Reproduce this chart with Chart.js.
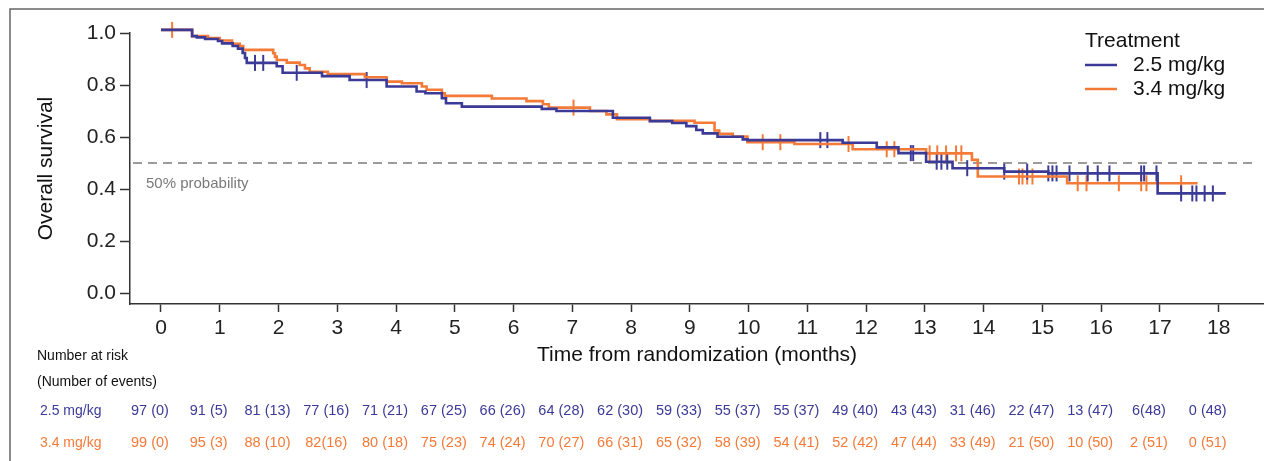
<!DOCTYPE html>
<html>
<head>
<meta charset="utf-8">
<script src="https://cdn.jsdelivr.net/npm/chart.js@4.4.1/dist/chart.umd.min.js"></script>
<style>
  html, body { margin: 0; padding: 0; background: #fff; }
</style>
</head>
<body>
<canvas id="km" width="1264" height="461"></canvas>
<script>
// Groups
const groups = ["2.5 mg/kg", "3.4 mg/kg"];
const colors = ["#3b3a97", "#f47a38"];

// Kaplan-Meier steps: [month, survival from that month on]
const stepsLow = [
  [0, 1.012], [0.53, 0.988], [0.61, 0.983], [0.75, 0.977], [0.97, 0.969],
  [1.04, 0.96], [1.22, 0.95], [1.31, 0.94], [1.39, 0.923], [1.43, 0.904],
  [1.46, 0.885], [1.97, 0.872], [2.07, 0.847], [2.74, 0.834], [3.21, 0.819],
  [3.84, 0.794], [4.35, 0.775], [4.5, 0.768], [4.78, 0.749], [4.85, 0.73],
  [5.12, 0.717], [6.48, 0.708], [6.73, 0.7], [7.69, 0.674], [8.32, 0.661],
  [8.7, 0.654], [8.94, 0.642], [9.11, 0.627], [9.22, 0.614], [9.47, 0.601],
  [9.9, 0.591], [9.98, 0.588], [11.6, 0.578], [12.18, 0.56], [12.55, 0.538],
  [13.02, 0.505], [13.47, 0.48], [14.35, 0.467], [15.1, 0.46], [16.96, 0.383],
  [18.12, 0.383]
];
const stepsHigh = [
  [0, 1.012], [0.53, 0.988], [0.8, 0.981], [1.0, 0.971], [1.21, 0.958],
  [1.34, 0.95], [1.4, 0.935], [1.91, 0.922], [1.94, 0.909], [1.97, 0.896],
  [2.14, 0.886], [2.36, 0.877], [2.45, 0.864], [2.53, 0.851], [2.84, 0.842],
  [3.47, 0.83], [3.84, 0.813], [4.1, 0.807], [4.44, 0.794], [4.52, 0.782],
  [4.78, 0.768], [4.83, 0.758], [5.63, 0.748], [6.22, 0.738], [6.5, 0.726],
  [6.6, 0.713], [7.3, 0.7], [7.58, 0.687], [7.76, 0.668], [8.32, 0.662],
  [9.08, 0.655], [9.42, 0.625], [9.5, 0.612], [9.73, 0.602], [9.98, 0.58],
  [10.78, 0.573], [11.77, 0.553], [13.02, 0.537], [13.8, 0.512], [13.9, 0.448],
  [15.42, 0.422], [17.64, 0.422]
];

// Censoring times (months)
const censorLow = [1.6, 1.74, 2.31, 3.5, 11.22, 11.34, 12.76, 12.8, 13.2, 13.28,
  13.38, 13.72, 14.35, 14.74, 15.1, 15.17, 15.24, 15.46, 15.77, 15.94, 16.14,
  16.68, 16.73, 16.94, 17.36, 17.55, 17.62, 17.76, 17.9];
const censorHigh = [0.19, 7.02, 10.24, 10.54, 11.7, 12.35, 12.48, 13.08, 13.21,
  13.36, 13.53, 13.62, 14.6, 14.66, 14.74, 14.83, 15.6, 15.75, 16.3, 16.68,
  16.77, 17.36];

// Axis ticks
const xTicks = [0, 1, 2, 3, 4, 5, 6, 7, 8, 9, 10, 11, 12, 13, 14, 15, 16, 17, 18];
const yTicks = [0, 0.2, 0.4, 0.6, 0.8, 1.0];
const refLevel = 0.5;
const refLabel = "50% probability";

// Number at risk (number of events) at each x tick
const riskLow = ["97 (0)", "91 (5)", "81 (13)", "77 (16)", "71 (21)", "67 (25)", "66 (26)",
  "64 (28)", "62 (30)", "59 (33)", "55 (37)", "55 (37)", "49 (40)", "43 (43)", "31 (46)",
  "22 (47)", "13 (47)", "6(48)", "0 (48)"];
const riskHigh = ["99 (0)", "95 (3)", "88 (10)", "82(16)", "80 (18)", "75 (23)", "74 (24)",
  "70 (27)", "66 (31)", "65 (32)", "58 (39)", "54 (41)", "52 (42)", "47 (44)", "33 (49)",
  "21 (50)", "10 (50)", "2 (51)", "0 (51)"];

const FONT = '"Liberation Sans", Arial, Helvetica, sans-serif';

// value of a step curve at time t
function survAt(steps, t) {
  let s = steps[0][1];
  for (const p of steps) { if (p[0] <= t) s = p[1]; }
  return s;
}

function curve(label, steps, color) {
  return {
    label: label,
    data: steps.map(p => ({ x: p[0], y: p[1] })),
    borderColor: color,
    borderWidth: 2.6,
    stepped: 'before',
    pointRadius: 0,
    fill: false,
    clip: false
  };
}

function censors(steps, times, color) {
  return {
    label: '',
    data: times.map(t => ({ x: t, y: survAt(steps, t) })),
    showLine: false,
    pointStyle: 'line',
    rotation: 90,
    pointRadius: 8,
    borderColor: color,
    borderWidth: 2,
    clip: false
  };
}

const overlay = {
  id: 'overlay',
  beforeDatasetsDraw(chart) {
    const { ctx, chartArea, scales: { y } } = chart;
    const yy = y.getPixelForValue(refLevel);
    ctx.save();
    ctx.strokeStyle = '#9b9b9b';
    ctx.lineWidth = 2;
    ctx.setLineDash([9, 6]);
    ctx.beginPath();
    ctx.moveTo(chartArea.left + 3, yy);
    ctx.lineTo(chartArea.right - 8, yy);
    ctx.stroke();
    ctx.setLineDash([]);
    ctx.fillStyle = '#7a7a7a';
    ctx.font = '15px ' + FONT;
    ctx.textBaseline = 'middle';
    ctx.fillText(refLabel, chartArea.left + 16, yy + 21);
    ctx.restore();
  },
  afterDraw(chart) {
    const { ctx, scales: { x } } = chart;
    ctx.save();
    // frame
    ctx.strokeStyle = '#666';
    ctx.lineWidth = 1.5;
    ctx.beginPath();
    ctx.moveTo(10, 461);
    ctx.lineTo(10, 9);
    ctx.lineTo(1264, 9);
    ctx.stroke();

    // legend
    ctx.fillStyle = '#111';
    ctx.textBaseline = 'middle';
    ctx.font = '21px ' + FONT;
    ctx.fillText('Treatment', 1085, 41);
    groups.forEach((g, i) => {
      const ly = 65 + i * 24;
      ctx.strokeStyle = colors[i];
      ctx.lineWidth = 2.5;
      ctx.beginPath();
      ctx.moveTo(1085, ly);
      ctx.lineTo(1117, ly);
      ctx.stroke();
      ctx.fillStyle = '#111';
      ctx.fillText(g, 1133, ly);
    });

    // risk table
    ctx.font = '14px ' + FONT;
    ctx.fillStyle = '#111';
    ctx.textAlign = 'left';
    ctx.fillText('Number at risk', 37, 356);
    ctx.fillText('(Number of events)', 37, 382);
    const rows = [riskLow, riskHigh];
    rows.forEach((row, i) => {
      const ry = 411 + i * 32;
      ctx.fillStyle = colors[i];
      ctx.textAlign = 'left';
      ctx.font = '14px ' + FONT;
      ctx.fillText(groups[i], 40, ry);
      ctx.textAlign = 'center';
      ctx.font = '14.5px ' + FONT;
      row.forEach((txt, j) => {
        ctx.fillText(txt, x.getPixelForValue(xTicks[j]) - 11, ry);
      });
    });
    ctx.restore();
  }
};

new Chart(document.getElementById('km'), {
  type: 'line',
  data: {
    datasets: [
      curve(groups[0], stepsLow, colors[0]),
      curve(groups[1], stepsHigh, colors[1]),
      censors(stepsLow, censorLow, colors[0]),
      censors(stepsHigh, censorHigh, colors[1])
    ]
  },
  options: {
    responsive: false,
    animation: false,
    layout: { autoPadding: false, padding: { top: 33, left: 0, right: 0, bottom: 0 } },
    plugins: { legend: { display: false }, tooltip: { enabled: false } },
    scales: {
      x: {
        type: 'linear',
        min: -0.527,
        max: 18.77,
        afterBuildTicks: s => { s.ticks = xTicks.map(v => ({ value: v })); },
        afterFit: s => { s.height = 157; },
        grid: { drawOnChartArea: false, drawTicks: true, tickLength: 8, tickColor: '#333', tickWidth: 1.5 },
        border: { display: true, color: '#333', width: 1.5 },
        ticks: { autoSkip: false, maxRotation: 0, padding: 4, color: '#222', font: { family: FONT, size: 21 } },
        title: { display: true, text: 'Time from randomization (months)', color: '#111',
          font: { family: FONT, size: 21 }, padding: { top: 0, bottom: 93 } }
      },
      y: {
        type: 'linear',
        min: -0.0423,
        max: 1.0,
        afterBuildTicks: s => { s.ticks = yTicks.map(v => ({ value: v })); },
        afterFit: s => { s.width = 130; },
        grid: { drawOnChartArea: false, drawTicks: true, tickLength: 10, tickColor: '#333', tickWidth: 1.5 },
        border: { display: true, color: '#333', width: 1.5 },
        ticks: { padding: 4, color: '#222', font: { family: FONT, size: 21 }, callback: v => v.toFixed(1) },
        title: { display: true, text: 'Overall survival', color: '#111',
          font: { family: FONT, size: 21 }, padding: { top: 34, bottom: 0 } }
      }
    }
  },
  plugins: [overlay]
});
</script>
</body>
</html>
